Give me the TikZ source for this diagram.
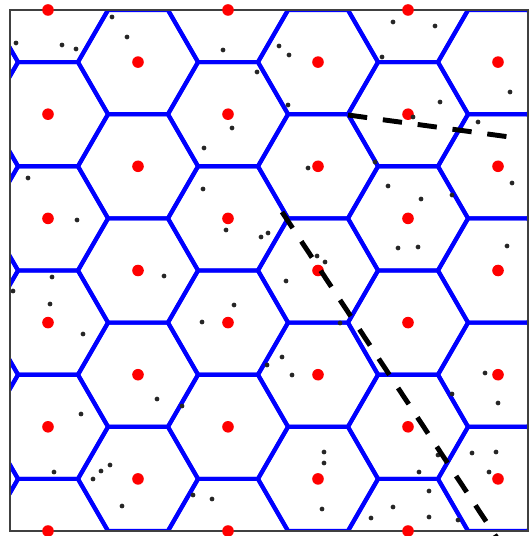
\documentclass[tikz,border=0pt]{standalone}
\usetikzlibrary{positioning}

\begin{document}
\begin{tikzpicture}[
    x=0.02cm, y=-0.02cm,
    cell/.style={draw=blue, line width=2.3pt, line join=round},
    site/.style={fill=red},
    user/.style={fill=black!85},
    cut/.style={line width=2.8pt, dash pattern=on 11pt off 9pt},
    border/.style={draw=black!75, line width=0.9pt}
  ]
  \useasboundingbox (0,0) rectangle (530,536);

  % Hexagonal cells, clipped to the area
  \begin{scope}
    \clip (10,10) rectangle (528,531);
    \foreach \i in {-1,...,6}
      \foreach \j in {-1,...,5} {
        \pgfmathsetmacro{\cx}{48+90*\i}
        \pgfmathsetmacro{\cy}{10+104.2*\j+52.1*Mod(\i,2)}
        \draw[cell] (\cx,\cy) +(0:60.2) -- +(60:60.2) -- +(120:60.2)
          -- +(180:60.2) -- +(240:60.2) -- +(300:60.2) -- cycle;
      }
  \end{scope}
  \draw[border] (10,10) rectangle (528,531);

  % Base stations
  \foreach \cx in {48,228,408}
    \foreach \j in {0,...,5}
      \fill[site] (\cx,10+104.2*\j) circle[radius=3.3pt];
  \foreach \cx in {138,318,498}
    \foreach \j in {0,...,4}
      \fill[site] (\cx,62.1+104.2*\j) circle[radius=3.3pt];

  % Users
  \foreach \p in {(112,17),(127,37),(16,43),(62,45),(76,49),(223,50),
      (257,72),(232,128),(204,148),(28,178),(203,189),(77,220),(226,230),
      (261,237),(393,22),(435,26),(279,46),(289,55),(382,57),(510,92),
      (288,105),(440,102),(413,117),(478,122),(308,168),(375,162),
      (512,183),(388,186),(421,199),(452,195),(268,233),(398,248),
      (418,247),(507,246),(325,262),(317,256),(52,277),(164,276),(13,291),
      (50,304),(234,305),(202,322),(83,334),(157,399),(182,406),(81,414),
      (54,472),(110,465),(101,471),(93,479),(193,495),(212,499),(122,506),
      (286,281),(282,357),(267,365),(292,375),(340,323),(485,373),
      (498,403),(452,394),(324,452),(324,463),(438,455),(472,453),
      (496,452),(489,472),(419,472),(429,491),(322,509),(393,507),
      (371,518),(429,517),(458,520)}
    \fill[user] \p circle[radius=1.35pt];

  % Cell boundary cuts
  \coordinate (a1) at (348,115);
  \coordinate (a2) at (517,138);
  \coordinate (b1) at (282,212);
  \coordinate (b2) at (497,538);
  \draw[cut] (a1) -- (a2);
  \draw[cut] (b1) -- (b2);
\end{tikzpicture}
\end{document}
